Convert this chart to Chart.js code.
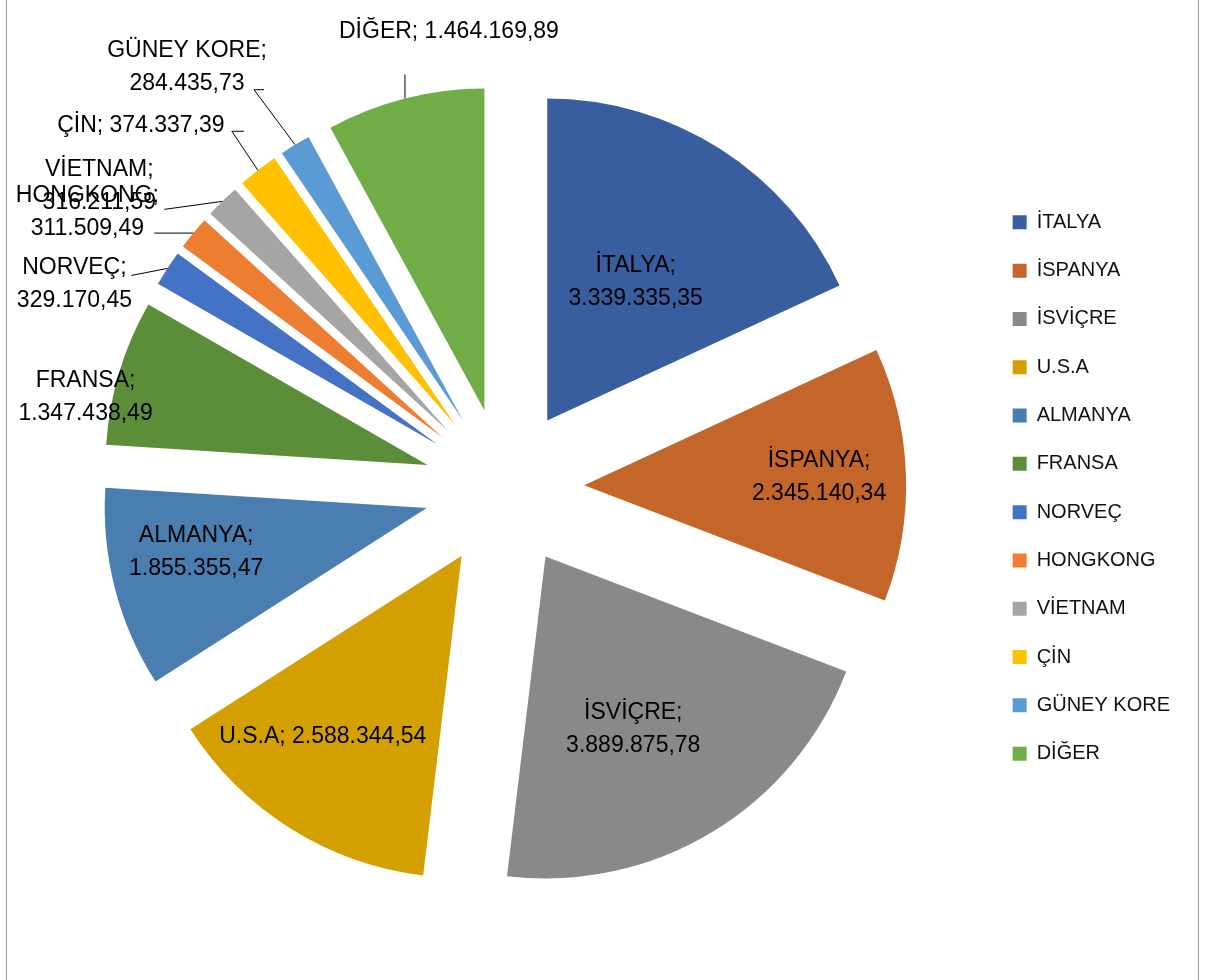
<!DOCTYPE html>
<html>
<head>
<meta charset="utf-8">
<script src="https://cdn.jsdelivr.net/npm/chart.js@4"></script>
<style>
  html, body { margin: 0; padding: 0; background: #fff; }
  #wrap { position: relative; width: 1206px; height: 980px; }
  #frame { position: absolute; left: 6px; top: 0; width: 1193px; height: 980px;
           border-left: 1px solid #9a9a9a; border-right: 1px solid #9a9a9a; box-sizing: border-box; pointer-events: none; }
</style>
</head>
<body>
<div id="wrap">
  <canvas id="pie" width="1206" height="980"></canvas>
  <div id="frame"></div>
</div>
<script>
const countries = ["İTALYA", "İSPANYA", "İSVİÇRE", "U.S.A", "ALMANYA", "FRANSA",
  "NORVEÇ", "HONGKONG", "VİETNAM", "ÇİN", "GÜNEY KORE", "DİĞER"];
const amounts = [3339335.35, 2345140.34, 3889875.78, 2588344.54, 1855355.47, 1347438.49,
  329170.45, 311509.49, 316211.59, 374337.39, 284435.73, 1464169.89];
const sliceColors = ["#385EA0", "#C4662A", "#898989", "#D4A000", "#4A7EB0", "#5C8E3A",
  "#4472C4", "#ED7D31", "#A5A5A5", "#FFC000", "#5B9BD5", "#70AD47"];

// label placement per slice (inside: radial fraction + nudge, outside: offsets from slice edge)
const labelLayout = [
  { f: 0.51, dx: 0, dy: 0, split: true },
  { f: 0.73, dx: 0, dy: 0, split: true },
  { f: 0.60, dx: -12, dy: 7, split: true },
  { f: 0.70, dx: -19, dy: -10, split: false },
  { f: 0.73, dx: -3, dy: -15, split: true },
  { f: 1.08, dx: -9, dy: 32, split: true },
  { out: true, tx: -93, ty: 16, split: true, leader: [[-36, 7]] },
  { out: true, tx: -106, ty: -21, split: true, leader: [[-39, 0]] },
  { out: true, tx: -123, ty: -15, split: true, leader: [[-58, 8]] },
  { out: true, tx: -117, ty: -45, split: false, leader: [[-26, -39], [-14, -39]] },
  { out: true, tx: -108, ty: -78, split: true, leader: [[-41, -55], [-31, -55]] },
  { out: true, tx: 44, ty: -67, split: false, leader: [[0, -24]] }
];

const EXPLODE = 80;
const LABEL_FONT = "23px 'Liberation Sans', Arial, sans-serif";
const LINE_GAP = 33;

function fmtTr(v) {
  const parts = v.toFixed(2).split(".");
  return parts[0].replace(/\B(?=(\d{3})+(?!\d))/g, ".") + "," + parts[1];
}

// Excel-style explosion: every slice pushed out the same distance, radius unchanged
const explode = {
  id: "explode",
  beforeDatasetDraw(chart, args) {
    const c = chart.ctx;
    args.meta.data.forEach(arc => {
      const mid = (arc.startAngle + arc.endAngle) / 2;
      c.save();
      c.translate(Math.cos(mid) * EXPLODE, Math.sin(mid) * EXPLODE);
      arc.draw(c);
      c.restore();
    });
    return false;
  }
};

const sliceLabels = {
  id: "sliceLabels",
  afterDatasetsDraw(chart) {
    const c = chart.ctx;
    const meta = chart.getDatasetMeta(0);
    const R = meta.controller.outerRadius;
    c.save();
    c.font = LABEL_FONT;
    c.fillStyle = "#000";
    c.strokeStyle = "#000";
    c.lineWidth = 1;
    c.textAlign = "center";
    c.textBaseline = "middle";
    meta.data.forEach((arc, i) => {
      const p = arc.getProps(["x", "y", "startAngle", "endAngle"], true);
      const mid = (p.startAngle + p.endAngle) / 2;
      const cos = Math.cos(mid), sin = Math.sin(mid);
      const lay = labelLayout[i];
      const head = countries[i] + ";";
      const val = fmtTr(amounts[i]);
      const lines = lay.split ? [head, val] : [head + " " + val];
      let cx, cy;
      if (lay.out) {
        const ex = p.x + cos * (EXPLODE + R);
        const ey = p.y + sin * (EXPLODE + R);
        c.beginPath();
        c.moveTo(ex, ey);
        lay.leader.forEach(pt => c.lineTo(ex + pt[0], ey + pt[1]));
        c.stroke();
        cx = ex + lay.tx;
        cy = ey + lay.ty;
      } else {
        const r = EXPLODE + lay.f * R;
        cx = p.x + cos * r + lay.dx;
        cy = p.y + sin * r + lay.dy;
      }
      const top = cy - (lines.length - 1) * LINE_GAP / 2;
      lines.forEach((t, k) => c.fillText(t, cx, top + k * LINE_GAP));
    });
    c.restore();
  }
};

new Chart(document.getElementById("pie"), {
  type: "pie",
  data: {
    labels: countries,
    datasets: [{
      data: amounts,
      backgroundColor: sliceColors,
      borderWidth: 0,
      hoverOffset: 0
    }]
  },
  options: {
    responsive: false,
    animation: false,
    radius: 322,
    layout: { padding: { left: 24, right: 26, top: 0, bottom: 4 } },
    plugins: {
      tooltip: { enabled: false },
      legend: {
        position: "right",
        labels: {
          boxWidth: 14,
          boxHeight: 14,
          padding: 28.3,
          color: "#111",
          font: { family: "'Liberation Sans', Arial, sans-serif", size: 20 }
        }
      }
    }
  },
  plugins: [explode, sliceLabels]
});
</script>
</body>
</html>
